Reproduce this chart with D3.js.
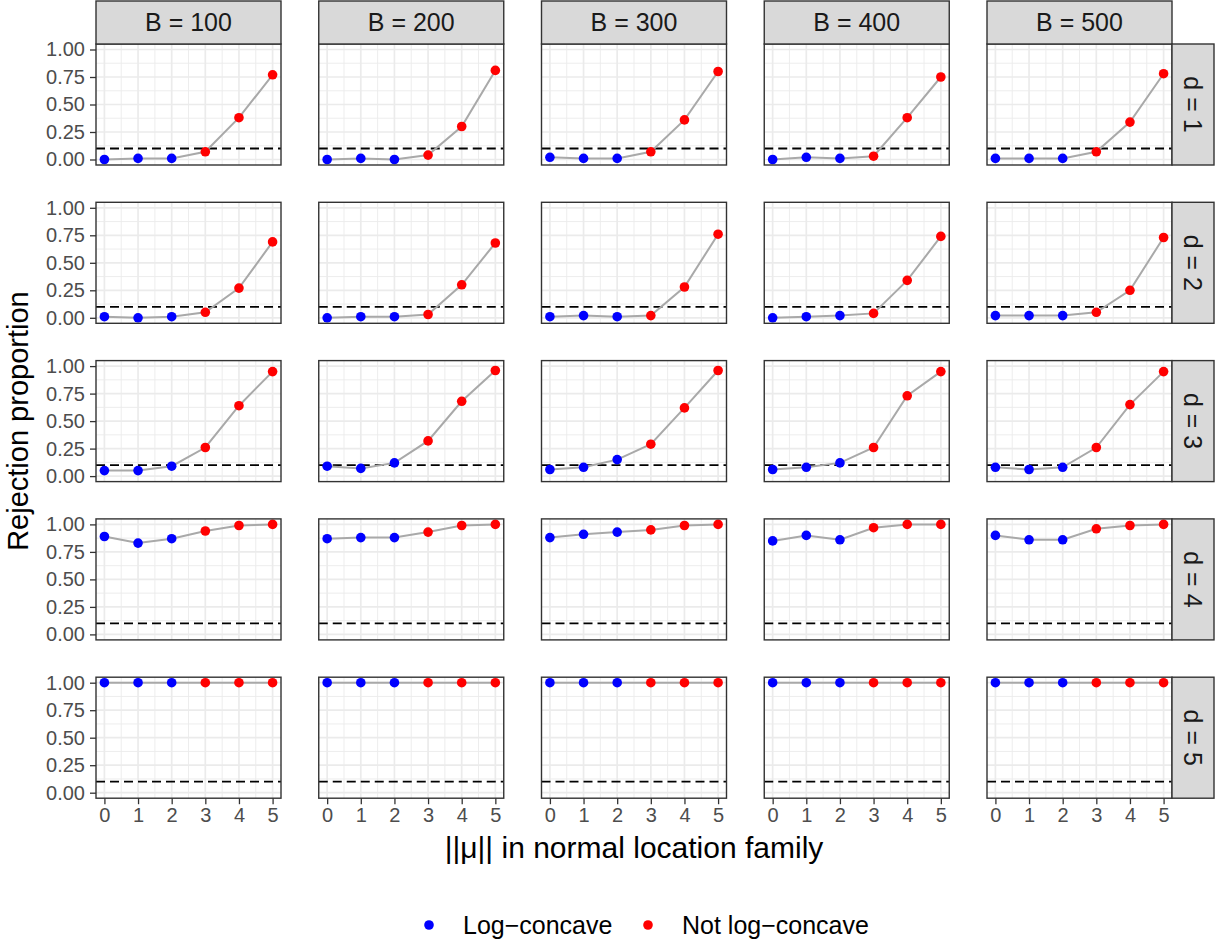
<!DOCTYPE html>
<html>
<head>
<meta charset="utf-8">
<script src="https://cdn.jsdelivr.net/npm/d3@7"></script>
<style>
  body { margin: 0; background: #fff; }
  svg { display: block; font-family: "Liberation Sans", Arial, sans-serif; }
</style>
</head>
<body>
<div id="chart-area"></div>
<script>
const bValues = [100, 200, 300, 400, 500];
const dValues = [1, 2, 3, 4, 5];
const muValues = [0, 1, 2, 3, 4, 5];
const muGroup = ["Log−concave", "Log−concave", "Log−concave", "Not log−concave", "Not log−concave", "Not log−concave"];
const groups = ["Log−concave", "Not log−concave"];
const yTicks = [0, 0.25, 0.5, 0.75, 1];
const refLevel = 0.1;

// rejection proportion, one row per B (100..500), columns = ||mu|| 0..5
const rejD1 = [
  [0.00, 0.01, 0.01, 0.07, 0.38, 0.77],
  [0.00, 0.01, 0.00, 0.04, 0.30, 0.81],
  [0.02, 0.01, 0.01, 0.07, 0.36, 0.80],
  [0.00, 0.02, 0.01, 0.03, 0.38, 0.75],
  [0.01, 0.01, 0.01, 0.07, 0.34, 0.78]
];
const rejD2 = [
  [0.01, 0.00, 0.01, 0.05, 0.27, 0.69],
  [0.00, 0.01, 0.01, 0.03, 0.30, 0.68],
  [0.01, 0.02, 0.01, 0.02, 0.28, 0.76],
  [0.00, 0.01, 0.02, 0.04, 0.34, 0.74],
  [0.02, 0.02, 0.02, 0.05, 0.25, 0.73]
];
const rejD3 = [
  [0.05, 0.05, 0.09, 0.26, 0.64, 0.95],
  [0.09, 0.07, 0.12, 0.32, 0.68, 0.96],
  [0.06, 0.08, 0.15, 0.29, 0.62, 0.96],
  [0.06, 0.08, 0.12, 0.26, 0.73, 0.95],
  [0.08, 0.06, 0.08, 0.26, 0.65, 0.95]
];
const rejD4 = [
  [0.89, 0.83, 0.87, 0.94, 0.99, 1.00],
  [0.87, 0.88, 0.88, 0.93, 0.99, 1.00],
  [0.88, 0.91, 0.93, 0.95, 0.99, 1.00],
  [0.85, 0.90, 0.86, 0.97, 1.00, 1.00],
  [0.90, 0.86, 0.86, 0.96, 0.99, 1.00]
];
const rejD5 = [
  [1.00, 1.00, 1.00, 1.00, 1.00, 1.00],
  [1.00, 1.00, 1.00, 1.00, 1.00, 1.00],
  [1.00, 1.00, 1.00, 1.00, 1.00, 1.00],
  [1.00, 1.00, 1.00, 1.00, 1.00, 1.00],
  [1.00, 1.00, 1.00, 1.00, 1.00, 1.00]
];
const rejByD = [rejD1, rejD2, rejD3, rejD4, rejD5];

const W = 1215, H = 941;
const left0 = 96, top0 = 44;
const panelW = 185, panelH = 121;
const colStep = 222.75, rowStep = 158.3;
const stripH = 43, stripW = 42;

const svg = d3.select("#chart-area")
  .append("svg")
    .attr("width", W)
    .attr("height", H);

const xScale = d3.scaleLinear().domain([-0.25, 5.25]).range([0, panelW]);
const yScale = d3.scaleLinear().domain([-0.05, 1.05]).range([panelH, 0]);
const colorScale = d3.scaleOrdinal().domain(groups).range(["#0000FF", "#FF0000"]);

const line = d3.line()
  .x(d => xScale(d.mu))
  .y(d => yScale(d.value));

dValues.forEach((dv, ri) => {
  bValues.forEach((bv, ci) => {
    const px = left0 + ci * colStep;
    const py = top0 + ri * rowStep;
    const g = svg.append("g").attr("transform", `translate(${px},${py})`);

    g.append("rect")
      .attr("width", panelW).attr("height", panelH)
      .attr("fill", "#fff");

    // minor grid
    const xMinor = muValues.slice(0, -1).map(m => m + 0.5);
    const yMinor = yTicks.slice(0, -1).map(t => t + 0.125);
    g.selectAll(".xminor").data(xMinor).enter().append("line")
      .attr("x1", d => xScale(d)).attr("x2", d => xScale(d))
      .attr("y1", 0).attr("y2", panelH)
      .attr("stroke", "#EBEBEB").attr("stroke-width", 0.9);
    g.selectAll(".yminor").data(yMinor).enter().append("line")
      .attr("y1", d => yScale(d)).attr("y2", d => yScale(d))
      .attr("x1", 0).attr("x2", panelW)
      .attr("stroke", "#EBEBEB").attr("stroke-width", 0.9);
    // major grid
    g.selectAll(".xmajor").data(muValues).enter().append("line")
      .attr("x1", d => xScale(d)).attr("x2", d => xScale(d))
      .attr("y1", 0).attr("y2", panelH)
      .attr("stroke", "#EBEBEB").attr("stroke-width", 1.7);
    g.selectAll(".ymajor").data(yTicks).enter().append("line")
      .attr("y1", d => yScale(d)).attr("y2", d => yScale(d))
      .attr("x1", 0).attr("x2", panelW)
      .attr("stroke", "#EBEBEB").attr("stroke-width", 1.7);

    g.append("line")
      .attr("x1", 0).attr("x2", panelW)
      .attr("y1", yScale(refLevel)).attr("y2", yScale(refLevel))
      .attr("stroke", "#000").attr("stroke-width", 1.8)
      .attr("stroke-dasharray", "9,5");

    const pts = muValues.map((m, i) => ({ mu: m, value: rejByD[ri][ci][i], group: muGroup[i] }));

    g.append("path")
      .datum(pts)
      .attr("d", line)
      .attr("fill", "none")
      .attr("stroke", "#A9A9A9")
      .attr("stroke-width", 2);

    g.selectAll(".pt").data(pts).enter().append("circle")
      .attr("cx", d => xScale(d.mu))
      .attr("cy", d => yScale(d.value))
      .attr("r", 4.8)
      .attr("fill", d => colorScale(d.group));

    g.append("rect")
      .attr("width", panelW).attr("height", panelH)
      .attr("fill", "none")
      .attr("stroke", "#333333").attr("stroke-width", 1.4);

    if (ci === 0) {
      const ya = g.append("g")
        .call(d3.axisLeft(yScale).tickValues(yTicks).tickFormat(d3.format(".2f")).tickSize(6).tickPadding(5));
      ya.select(".domain").remove();
      ya.selectAll(".tick line").attr("stroke", "#333333").attr("stroke-width", 1.3);
      ya.selectAll(".tick text").attr("fill", "#4D4D4D").style("font-size", "20px")
        .style("font-family", "'Liberation Sans', Arial, sans-serif");
    }
    if (ri === dValues.length - 1) {
      const xa = g.append("g")
        .attr("transform", `translate(0,${panelH})`)
        .call(d3.axisBottom(xScale).tickValues(muValues).tickFormat(d3.format("d")).tickSize(6).tickPadding(4));
      xa.select(".domain").remove();
      xa.selectAll(".tick line").attr("stroke", "#333333").attr("stroke-width", 1.3);
      xa.selectAll(".tick text").attr("fill", "#4D4D4D").style("font-size", "20px")
        .style("font-family", "'Liberation Sans', Arial, sans-serif");
    }
  });
});

// top strips
bValues.forEach((bv, ci) => {
  const px = left0 + ci * colStep;
  svg.append("rect")
    .attr("x", px).attr("y", top0 - stripH)
    .attr("width", panelW).attr("height", stripH)
    .attr("fill", "#D9D9D9").attr("stroke", "#333333").attr("stroke-width", 1.4);
  svg.append("text")
    .attr("x", px + panelW / 2).attr("y", top0 - stripH / 2)
    .attr("text-anchor", "middle").attr("dy", "0.35em")
    .attr("fill", "#1A1A1A").style("font-size", "25px")
    .text(`B = ${bv}`);
});

// right strips
const stripX = left0 + (bValues.length - 1) * colStep + panelW;
dValues.forEach((dv, ri) => {
  const py = top0 + ri * rowStep;
  svg.append("rect")
    .attr("x", stripX).attr("y", py)
    .attr("width", stripW).attr("height", panelH)
    .attr("fill", "#D9D9D9").attr("stroke", "#333333").attr("stroke-width", 1.4);
  svg.append("text")
    .attr("transform", `translate(${stripX + stripW / 2},${py + panelH / 2}) rotate(90)`)
    .attr("text-anchor", "middle").attr("dy", "0.35em")
    .attr("fill", "#1A1A1A").style("font-size", "25px")
    .text(`d = ${dv}`);
});

// axis titles
const panelsRight = stripX;
const panelsBottom = top0 + (dValues.length - 1) * rowStep + panelH;
svg.append("text")
  .attr("x", (left0 + panelsRight) / 2).attr("y", 858)
  .attr("text-anchor", "middle")
  .style("font-size", "30px")
  .text("||μ|| in normal location family");

svg.append("text")
  .attr("transform", `translate(28,${(top0 + panelsBottom) / 2}) rotate(-90)`)
  .attr("text-anchor", "middle")
  .style("font-size", "29px")
  .text("Rejection proportion");

// legend
const legendItems = [
  { label: groups[0], cx: 429, tx: 463 },
  { label: groups[1], cx: 648, tx: 682 }
];
legendItems.forEach(item => {
  svg.append("circle")
    .attr("cx", item.cx).attr("cy", 925).attr("r", 4.8)
    .attr("fill", colorScale(item.label));
  svg.append("text")
    .attr("x", item.tx).attr("y", 934)
    .style("font-size", "25px")
    .text(item.label);
});
</script>
</body>
</html>
